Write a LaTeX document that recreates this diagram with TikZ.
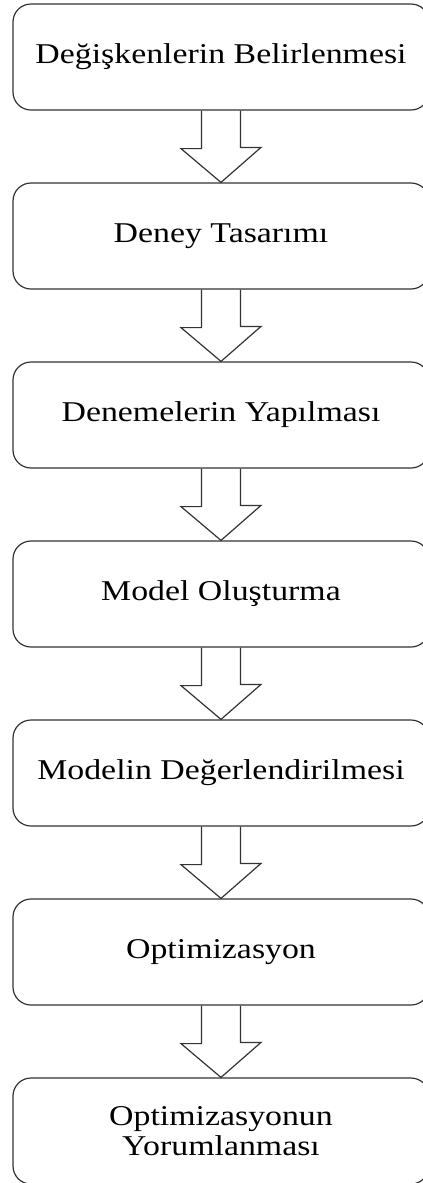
\documentclass[tikz,border=0pt]{standalone}
\usepackage{fontspec}
\setmainfont[FakeStretch=1.18]{Liberation Serif}
\usepackage{tikz}
\usetikzlibrary{calc}

\begin{document}
\begin{tikzpicture}[x=0.75pt,y=0.75pt,
    stagebox/.style={draw=black!80, line width=0.9pt, rectangle, rounded corners=13.5pt,
      minimum width=312pt, minimum height=79.5pt, inner sep=0pt, align=center,
      font=\fontsize{21.5pt}{22.5pt}\selectfont},
    blockarrow/.style={draw=black!80, line width=0.9pt, line join=miter}]
    \useasboundingbox (0,0) rectangle (422,-1183);

    % stages
    \node [stagebox] (degisken) at (221,-57) {Değişkenlerin Belirlenmesi};
    \node [stagebox] (tasarim) at (221,-236) {Deney Tasarımı};
    \node [stagebox] (deneme) at (221,-415) {Denemelerin Yapılması};
    \node [stagebox] (model) at (221,-594) {Model Oluşturma};
    \node [stagebox] (degerlendirme) at (221,-773) {Modelin Değerlendirilmesi};
    \node [stagebox] (optimizasyon) at (221,-952) {Optimizasyon};
    \node [stagebox] (yorum) at (221,-1131) {Optimizasyonun\\Yorumlanması};

    % block arrows between stages
    \draw [blockarrow]
      ($(degisken.south) + (-19.5,0)$) -- ++(0,-38) -- ++(-20.5,0)
      -- (tasarim.north)
      -- ($(tasarim.north) + (40,35)$) -- ++(-20.5,0)
      -- ($(degisken.south) + (19.5,0)$);
    \draw [blockarrow]
      ($(tasarim.south) + (-19.5,0)$) -- ++(0,-38) -- ++(-20.5,0)
      -- (deneme.north)
      -- ($(deneme.north) + (40,35)$) -- ++(-20.5,0)
      -- ($(tasarim.south) + (19.5,0)$);
    \draw [blockarrow]
      ($(deneme.south) + (-19.5,0)$) -- ++(0,-38) -- ++(-20.5,0)
      -- (model.north)
      -- ($(model.north) + (40,35)$) -- ++(-20.5,0)
      -- ($(deneme.south) + (19.5,0)$);
    \draw [blockarrow]
      ($(model.south) + (-19.5,0)$) -- ++(0,-38) -- ++(-20.5,0)
      -- (degerlendirme.north)
      -- ($(degerlendirme.north) + (40,35)$) -- ++(-20.5,0)
      -- ($(model.south) + (19.5,0)$);
    \draw [blockarrow]
      ($(degerlendirme.south) + (-19.5,0)$) -- ++(0,-38) -- ++(-20.5,0)
      -- (optimizasyon.north)
      -- ($(optimizasyon.north) + (40,35)$) -- ++(-20.5,0)
      -- ($(degerlendirme.south) + (19.5,0)$);
    \draw [blockarrow]
      ($(optimizasyon.south) + (-19.5,0)$) -- ++(0,-38) -- ++(-20.5,0)
      -- (yorum.north)
      -- ($(yorum.north) + (40,35)$) -- ++(-20.5,0)
      -- ($(optimizasyon.south) + (19.5,0)$);
  \end{tikzpicture}
\end{document}
